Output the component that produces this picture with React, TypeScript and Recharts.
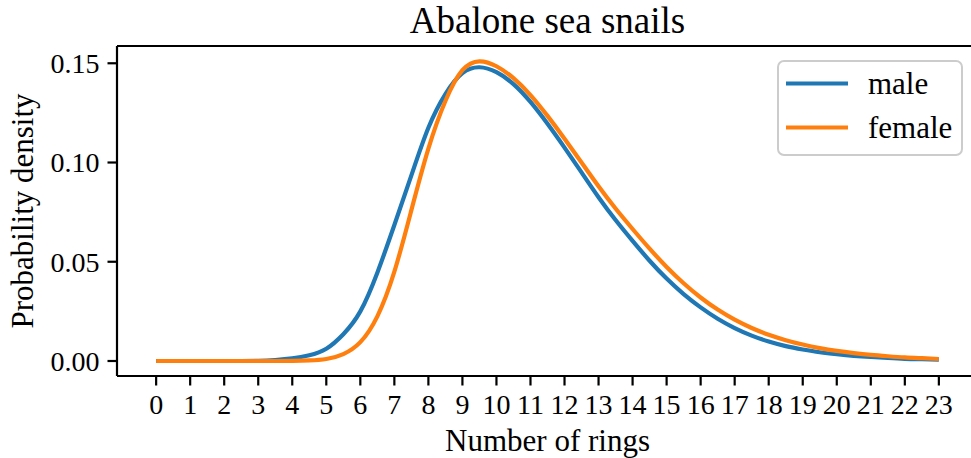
import { LineChart, Line, XAxis, YAxis, Legend, Label, ReferenceLine } from "recharts";

const FONT = "'Liberation Serif', 'DejaVu Serif', serif";
const BLUE = "#1f77b4";
const ORANGE = "#ff7f0e";

// sampled every half ring
const rings = [
  0, 0.5, 1, 1.5, 2, 2.5, 3, 3.5, 4, 4.5, 5, 5.5, 6, 6.5, 7, 7.5, 8, 8.5, 9, 9.5, 10, 10.5, 11, 11.5,
  12, 12.5, 13, 13.5, 14, 14.5, 15, 15.5, 16, 16.5, 17, 17.5, 18, 18.5, 19, 19.5, 20, 20.5, 21, 21.5,
  22, 22.5, 23,
];
const male = [
  0, 0, 0, 0, 0, 0, 0.0001, 0.0005, 0.0013, 0.0029, 0.0062, 0.0135, 0.0250, 0.0445, 0.0685, 0.0935,
  0.1175, 0.1345, 0.1450, 0.1480, 0.1455, 0.1395, 0.1305, 0.1195, 0.1075, 0.0950, 0.0825, 0.0710,
  0.0605, 0.0505, 0.0415, 0.0337, 0.0270, 0.0213, 0.0166, 0.0128, 0.0098, 0.0075, 0.0058, 0.0044,
  0.0034, 0.0026, 0.0020, 0.0015, 0.0011, 0.0009, 0.0007,
];
const female = [
  0, 0, 0, 0, 0, 0, 0, 0, 0.0001, 0.0003, 0.0010, 0.0035, 0.0095, 0.0225, 0.0450, 0.0760, 0.1070,
  0.1310, 0.1465, 0.1510, 0.1485, 0.1425, 0.1340, 0.1235, 0.1120, 0.1000, 0.0880, 0.0768, 0.0665,
  0.0566, 0.0474, 0.0392, 0.0320, 0.0259, 0.0208, 0.0166, 0.0132, 0.0105, 0.0083, 0.0065, 0.0051,
  0.0040, 0.0031, 0.0024, 0.0018, 0.0014, 0.0010,
];
const seriesOrder = ["male", "female"];
const xTicks = Array.from({ length: 24 }, (_, i) => i);
const yTicks = [0, 0.05, 0.1, 0.15];
const X_DOMAIN: [number, number] = [-1.15, 24.15];
const Y_DOMAIN: [number, number] = [-0.00756, 0.1587];

const data = rings.map((r, i) => ({ rings: r, male: male[i], female: female[i] }));

function LegendBox({ payload }: any) {
  const items = [...(payload || [])].sort(
    (a: any, b: any) => seriesOrder.indexOf(a.value) - seriesOrder.indexOf(b.value)
  );
  return (
    <svg width={186} height={96} style={{ display: "block" }}>
      <rect x={1} y={1} width={184} height={94} rx={6} ry={6} fill="rgba(255,255,255,0.8)" stroke="#cccccc" strokeWidth={2} />
      {items.map((p: any, i: number) => (
        <g key={p.value}>
          <line x1={9} x2={71} y1={23.5 + i * 44} y2={23.5 + i * 44} stroke={p.color} strokeWidth={4.2} />
          <text x={91} y={34 + i * 44} fontFamily={FONT} fontSize={31} fill="#000">
            {p.value}
          </text>
        </g>
      ))}
    </svg>
  );
}

export default function App() {
  return (
    <div style={{ position: "absolute", left: 0, top: 0, width: 971, height: 458, overflow: "hidden", background: "#fff" }}>
      <LineChart width={985} height={458} data={data} margin={{ top: 46, right: 7, bottom: 0, left: 0 }}>
        <XAxis
          dataKey="rings"
          type="number"
          domain={X_DOMAIN}
          ticks={xTicks}
          interval={0}
          height={82}
          stroke="#000"
          axisLine={{ stroke: "#000", strokeWidth: 2.2 }}
          tickLine={{ stroke: "#000", strokeWidth: 2.2 }}
          tickSize={9.5}
          tickMargin={9}
          tick={{ fill: "#000", fontSize: 28, fontFamily: FONT }}
        >
          <Label value="Number of rings" position="insideBottom" offset={7} fill="#000" fontSize={31} fontFamily={FONT} />
        </XAxis>
        <YAxis
          type="number"
          domain={Y_DOMAIN}
          ticks={yTicks}
          interval={0}
          width={117}
          allowDataOverflow
          stroke="#000"
          axisLine={{ stroke: "#000", strokeWidth: 2.2 }}
          tickLine={{ stroke: "#000", strokeWidth: 2.2 }}
          tickSize={9.5}
          tickMargin={8}
          tickFormatter={(v: number) => v.toFixed(2)}
          tick={{ fill: "#000", fontSize: 28, fontFamily: FONT }}
        >
          <Label
            content={() => (
              <text x={33} y={211} transform="rotate(-90, 33, 211)" textAnchor="middle" fill="#000" fontSize={31} fontFamily={FONT}>
                Probability density
              </text>
            )}
          />
        </YAxis>
        {/* top spine, carries the title */}
        <ReferenceLine
          y={Y_DOMAIN[1]}
          stroke="#000"
          strokeWidth={2.2}
          ifOverflow="visible"
          label={
            <Label
              content={() => (
                <text x={547.5} y={33} textAnchor="middle" fill="#000" fontSize={37} fontFamily={FONT}>
                  Abalone sea snails
                </text>
              )}
            />
          }
        />
        <Legend
          layout="vertical"
          align="center"
          verticalAlign="middle"
          content={<LegendBox />}
          wrapperStyle={{ position: "absolute", left: 777, top: 60, width: 186, height: 96 }}
        />
        <Line type="natural" dataKey="male" name="male" stroke={BLUE} strokeWidth={4.2} dot={false} activeDot={false} isAnimationActive={false} />
        <Line type="natural" dataKey="female" name="female" stroke={ORANGE} strokeWidth={4.2} dot={false} activeDot={false} isAnimationActive={false} />
      </LineChart>
    </div>
  );
}
